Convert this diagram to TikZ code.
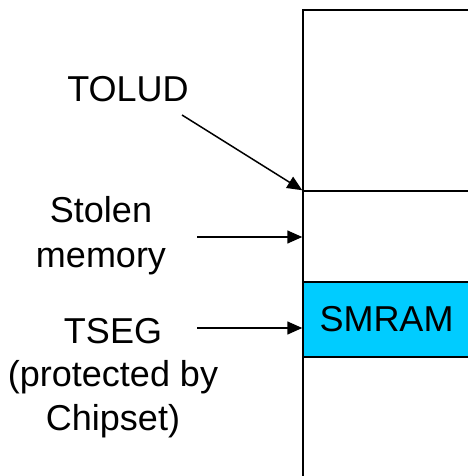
\documentclass[tikz,border=0pt]{standalone}
\usepackage{fontspec}
\setmainfont{Liberation Sans}
\usetikzlibrary{arrows.meta}
\definecolor{smramcyan}{RGB}{0,204,255}
\begin{document}
\begin{tikzpicture}[x=1pt,y=-1pt,
  region/.style={draw=black,line width=1.5pt,rectangle,inner sep=0pt,minimum width=167pt},
  lbl/.style={font=\fontsize{36}{44}\selectfont,align=center,inner sep=0pt},
  pointer/.style={line width=1.5pt,-{Triangle[length=15pt,width=13pt]}}]
\useasboundingbox (0,0) rectangle (467,476);
% memory regions
\node[region,minimum height=181pt] (top) at (386.5,100.5) {};
\node[region,minimum height=91pt] (stolen) at (386.5,236.5) {};
\node[region,fill=smramcyan,minimum height=75pt,font=\fontsize{36}{44}\selectfont] (smram) at (386.5,319.5) {SMRAM};
\node[region,minimum height=123pt] (low) at (386.5,418.5) {};
% labels
\node[lbl,anchor=base] (tolud) at (128,102) {TOLUD};
\node[lbl,anchor=base] (stolenlbl) at (101,222) {Stolen};
\node[lbl,anchor=base] (memorylbl) at (101,267) {memory};
\node[lbl,anchor=base] (tseg) at (113,343) {TSEG};
\node[lbl,anchor=base] (prot) at (113,386) {(protected by};
\node[lbl,anchor=base] (chip) at (113,430) {Chipset)};
% pointer start points
\coordinate (toludstart) at (182,115);
\coordinate (stolenstart) at (197,237);
\coordinate (tsegstart) at (197,328);
\coordinate (stolenend) at (stolen.west |- stolenstart);
\coordinate (tsegend) at (smram.west |- tsegstart);
\draw[pointer] (toludstart) -- (stolen.north west);
\draw[pointer] (stolenstart) -- (stolenend);
\draw[pointer] (tsegstart) -- (tsegend);
\end{tikzpicture}
\end{document}
